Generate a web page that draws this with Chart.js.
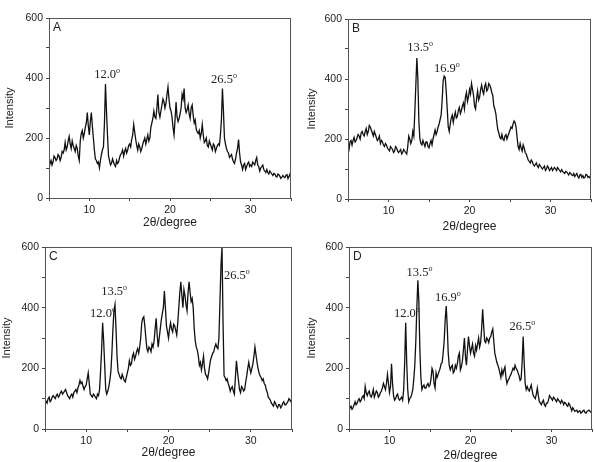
<!DOCTYPE html>
<html>
<head>
<meta charset="utf-8">
<script src="https://cdn.jsdelivr.net/npm/chart.js@4.4.0/dist/chart.umd.min.js"></script>
<style>
  html, body { margin: 0; padding: 0; background: #fff; }
  body { width: 595px; height: 462px; overflow: hidden; position: relative; }
  canvas { position: absolute; }
</style>
</head>
<body>
<canvas id="cA" width="297" height="240" style="left:0px;top:0px"></canvas>
<canvas id="cB" width="298" height="240" style="left:297px;top:0px"></canvas>
<canvas id="cC" width="297" height="240" style="left:0px;top:231px"></canvas>
<canvas id="cD" width="298" height="240" style="left:297px;top:231px"></canvas>
<script>
// ---- data: 2-theta angles (degree), main grid ----
const angles = [5,5.25,5.5,5.75,6,6.25,6.5,6.75,7,7.25,7.5,7.75,8,8.25,8.5,8.75,9,9.25,9.5,9.75,
  10,10.25,10.5,10.75,11,11.25,11.5,11.75,12,12.25,12.5,12.75,13,13.25,13.5,13.75,14,14.25,14.5,14.75,
  15,15.25,15.5,15.75,16,16.25,16.5,16.75,17,17.25,17.5,17.75,18,18.25,18.5,18.75,19,19.25,19.5,19.75,
  20,20.25,20.5,20.75,21,21.25,21.5,21.75,22,22.25,22.5,22.75,23,23.25,23.5,23.75,24,24.25,24.5,24.75,
  25,25.25,25.5,25.75,26,26.25,26.5,26.75,27,27.25,27.5,27.75,28,28.25,28.5,28.75,29,29.25,29.5,29.75,
  30,30.25,30.5,30.75,31,31.25,31.5,31.75,32,32.25,32.5,32.75,33,33.25,33.5,33.75,34,34.25,34.5,34.75,35];

// in-between angles (read separately for the noise)
const midAngles = [5.125,5.375,5.625,5.875,6.125,6.375,6.625,6.875,7.125,7.375,7.625,7.875,8.125,8.375,8.625,8.875,
  9.125,9.375,9.625,9.875,10.125,10.375,10.625,10.875,11.125,11.375,11.625,11.875,12.125,12.375,12.625,12.875,
  13.125,13.375,13.625,13.875,14.125,14.375,14.625,14.875,15.125,15.375,15.625,15.875,16.125,16.375,16.625,16.875,
  17.125,17.375,17.625,17.875,18.125,18.375,18.625,18.875,19.125,19.375,19.625,19.875,20.125,20.375,20.625,20.875,
  21.125,21.375,21.625,21.875,22.125,22.375,22.625,22.875,23.125,23.375,23.625,23.875,24.125,24.375,24.625,24.875,
  25.125,25.375,25.625,25.875,26.125,26.375,26.625,26.875,27.125,27.375,27.625,27.875,28.125,28.375,28.625,28.875,
  29.125,29.375,29.625,29.875,30.125,30.375,30.625,30.875,31.125,31.375,31.625,31.875,32.125,32.375,32.625,32.875,
  33.125,33.375,33.625,33.875,34.125,34.375,34.625,34.875];

// ---- intensities on the main grid ----
const intensityA = [95,125,120,135, 130,140,135,150, 185,170,205,165, 175,155,165,125, 215,200,235,285,
  210,285,200,130, 115,100,145,170, 380,210,125,115, 120,105,115,135, 150,140,165,160,
  180,195,245,195, 160,170,165,190, 180,210,200,250, 290,265,345,270, 310,320,315,370,
  300,270,210,320, 255,280,345,365, 285,310,265,310, 250,230,215,200, 245,185,200,170,
  180,160,175,165, 180,210,365,200, 165,150,140,130, 115,150,195,120, 95,115,105,120,
  110,120,110,135, 105,100,110,90, 95,80,85,75, 80,70,78,65, 75,68,78,72, 65];
const intensityAMid = [115,110,140,125, 145,125,155,160, 160,190,180,190, 165,175,140,190, 225,215,250,240,
  255,240,160,125, 120,125,160,250, 290,140,110,130, 110,125,120,145, 160,155,150,175,
  170,210,220,175, 180,155,180,200, 195,190,235,265, 270,300,285,290, 330,300,345,330,
  290,235,260,270, 265,300,330,300, 295,280,300,275, 260,220,225,215, 210,190,175,190,
  170,180,155,175, 175,260,290,180, 155,135,145,120, 130,165,150,110, 110,95,115,105,
  105,115,125,110, 90,105,95,85, 85,90,80,82, 72,80,72,70, 70,75,65,80];

const intensityB = [175,190,180,205, 195,215,200,225, 210,235,225,240, 220,225,205,200, 185,190,175,180,
  165,175,165,160, 170,155,165,155, 160,150,210,185, 225,290,470,260, 185,195,175,190,
  170,195,200,230, 225,250,280,395, 405,300,225,270, 255,290,275,305, 295,320,340,325,
  365,385,345,300, 360,340,380,350, 385,365,380,355, 310,285,230,205, 215,195,215,210,
  230,235,260,240, 175,185,160,170, 150,130,120,125, 110,120,105,110, 100,110,100,105,
  100,95,105,95, 100,90,92,85, 90,80,85,78, 75,85,70,82, 78,72,80,75, 78];
const intensityBMid = [165,195,195,190, 205,210,220,215, 225,215,245,230, 210,215,195,210, 195,180,185,170,
  160,170,155,175, 160,160,150,165, 155,175,200,195, 210,380,400,200, 180,185,190,175,
  185,180,215,215, 240,265,330,410, 360,240,250,280, 275,270,295,285, 310,300,355,340,
  350,365,310,335, 330,365,360,375, 360,385,370,345, 300,255,220,200, 200,210,200,220,
  240,250,255,205, 165,170,180,155, 140,125,130,115, 115,110,115,105, 105,95,110,95,
  105,100,100,105, 95,98,88,92, 85,88,80,85, 80,75,80,72, 70,82,72,70];

const intensityC = [100,85,105,95, 110,100,115,110, 125,120,130,110, 100,115,120,130, 135,160,155,130,
  145,185,115,105, 110,100,110,190, 350,210,115,140, 190,330,410,240, 180,165,170,155,
  185,225,215,250, 240,265,270,350, 370,300,255,265, 280,290,365,270, 330,380,455,340,
  300,350,320,340, 310,400,485,400, 440,390,485,420, 400,290,260,210, 195,240,180,165,
  210,240,255,280, 265,420,600,175, 160,150,125,140, 115,225,160,120, 135,130,175,220,
  185,215,270,220, 185,170,165,145, 120,100,85,75, 85,70,80,75, 90,80,90,95, 105];
const intensityCMid = [90,100,90,105, 105,110,105,120, 115,125,120,105, 110,105,125,120, 145,150,140,140,
  165,150,110,115, 105,115,130,260, 290,130,125,160, 250,390,330,190, 170,180,160,170,
  200,210,240,230, 255,250,300,365, 340,265,270,255, 270,330,310,300, 360,400,400,320,
  330,330,345,325, 350,450,440,460, 410,450,450,430, 330,270,240,220, 215,200,175,185,
  230,250,270,270, 300,540,350,170, 165,140,135,125, 170,190,130,140, 125,155,200,200,
  200,240,245,200, 175,160,150,130, 105,95,80,90, 75,80,70,85, 80,85,100,90];

const intensityD = [60,75,70,90, 85,100,95,110, 140,110,125,105, 130,115,120,110, 125,150,130,180,
  120,215,110,100, 115,95,105,130, 350,130,100,115, 165,290,490,260, 130,145,135,150,
  145,200,150,185, 180,200,220,290, 405,250,195,210, 190,200,240,195, 225,300,210,305,
  250,280,240,260, 300,285,395,290, 300,285,305,330, 250,220,200,170, 180,205,150,165,
  180,200,210,195, 175,165,305,150, 140,125,145,110, 100,135,90,80, 95,75,85,110,
  100,105,95,100, 90,95,80,85, 75,80,60,65, 60,55,60,55, 62,52,60,58, 65];
const intensityDMid = [70,65,80,80, 95,90,105,100, 120,120,110,115, 105,125,105,120, 135,140,150,150,
  140,150,95,110, 100,100,95,220, 220,90,105,130, 210,400,420,170, 140,135,145,140,
  165,190,135,170, 190,215,250,360, 340,210,205,185, 210,215,250,205, 260,240,260,275,
  265,250,275,280, 270,330,340,285, 295,300,320,290, 235,210,185,195, 195,170,160,175,
  190,195,200,185, 160,220,220,130, 130,135,125,105, 115,110,85,90, 80,85,95,105,
  95,100,90,95, 85,90,88,78, 85,70,70,58, 62,58,52,60, 55,58,62,55];

// ---- peak annotations (text, angle, intensity at text baseline) ----
const peakTextA = ['12.0', '26.5'];
const peakAngleA = [12.2, 26.7];
const peakValA = [400, 383];

const peakTextB = ['13.5', '16.9'];
const peakAngleB = [13.9, 17.2];
const peakValB = [493, 423];

const peakTextC = ['12.0', '13.5', '26.5'];
const peakAngleC = [12.05, 13.4, 28.3];
const peakValC = [370, 442, 495];

const peakTextD = ['12.0', '13.5', '16.9', '26.5'];
const peakAngleD = [12.15, 13.7, 17.2, 26.4];
const peakValD = [370, 506, 423, 327];

// ---- axis ticks ----
const yTicks = [0, 200, 400, 600];
const xTicks = [10, 20, 30];

const SANS = '"Liberation Sans", Arial, sans-serif';
const SERIF = '"Liberation Serif", "Times New Roman", serif';

const panelDecor = {
  id: 'panelDecor',
  afterDraw(chart, args, opts) {
    const ctx = chart.ctx;
    const a = chart.chartArea;
    ctx.save();
    ctx.strokeStyle = '#555';
    ctx.lineWidth = 1;
    ctx.strokeRect(Math.round(a.left) + 0.5, Math.round(a.top) + 0.5,
                   Math.round(a.right - a.left) - 1, Math.round(a.bottom - a.top));
    ctx.fillStyle = '#222';
    ctx.font = '12px ' + SANS;
    ctx.textAlign = 'left';
    ctx.textBaseline = 'alphabetic';
    ctx.fillText(opts.letter, a.left + 4, a.top + 13);
    const xs = chart.scales.x, ys = chart.scales.y;
    for (let i = 0; i < opts.texts.length; i++) {
      const cx = xs.getPixelForValue(opts.angles[i]);
      const by = ys.getPixelForValue(opts.vals[i]);
      ctx.font = '12.5px ' + SERIF;
      const w1 = ctx.measureText(opts.texts[i]).width;
      ctx.font = '8px ' + SERIF;
      const w2 = ctx.measureText('o').width;
      const x0 = cx - (w1 + w2) / 2;
      ctx.font = '12.5px ' + SERIF;
      ctx.fillText(opts.texts[i], x0, by);
      ctx.font = '8px ' + SERIF;
      ctx.fillText('o', x0 + w1, by - 5);
    }
    ctx.restore();
  }
};

function makePanel(id, letter, values, midValues, texts, pAngles, pVals, geo) {
  const yWidth = geo.L - geo.cl;
  const xHeight = geo.ct + geo.h - geo.B;
  const titleLH = 12 * 1.2;
  const yTitlePad = Math.max(0, (geo.yt - geo.cl) - 11 * 1.2 / 2);
  const xTitlePad = Math.max(0, (geo.ct + geo.h - geo.xt) - titleLH / 2);
  const pts = angles.map((a, i) => ({ x: a, y: values[i] }))
    .concat(midAngles.map((a, i) => ({ x: a, y: midValues[i] })))
    .sort((p, q) => p.x - q.x);
  new Chart(document.getElementById(id), {
    type: 'line',
    data: { datasets: [{ data: pts, borderColor: '#111', borderWidth: 1.3,
      pointRadius: 0, tension: 0, fill: false }] },
    options: {
      responsive: false, animation: false, devicePixelRatio: 1, parsing: false,
      layout: { padding: { left: 0, top: geo.T - geo.ct, right: geo.cl + geo.w - geo.R, bottom: 0 } },
      plugins: { legend: { display: false }, tooltip: { enabled: false },
        panelDecor: { letter, texts, angles: pAngles, vals: pVals } },
      scales: {
        x: {
          type: 'linear', min: 5, max: 35,
          afterFit(s) { s.height = xHeight; },
          ticks: { stepSize: 5, autoSkip: false, maxRotation: 0, padding: 3,
            color: '#222', font: { family: SANS, size: 10.5 },
            callback: v => xTicks.includes(v) ? String(v) : '' },
          grid: { drawOnChartArea: false, drawTicks: true, tickLength: 3, color: '#444' },
          border: { display: true, color: '#555' },
          title: { display: true, text: '2θ/degree', color: '#222',
            font: { family: SANS, size: 12 }, padding: { top: 0, bottom: xTitlePad } }
        },
        y: {
          min: 0, max: 600,
          afterFit(s) { s.width = yWidth; },
          ticks: { stepSize: 100, autoSkip: false, padding: 3,
            color: '#222', font: { family: SANS, size: 10.5 },
            callback: v => yTicks.includes(v) ? String(v) : '' },
          grid: { drawOnChartArea: false, drawTicks: true, tickLength: 3, color: '#444' },
          border: { display: true, color: '#555' },
          title: { display: true, text: 'Intensity', color: '#222',
            font: { family: SANS, size: 11 }, padding: { top: yTitlePad, bottom: 0 } }
        }
      }
    },
    plugins: [panelDecor]
  });
}

makePanel('cA', 'A', intensityA, intensityAMid, peakTextA, peakAngleA, peakValA,
  { cl: 0, ct: 0, w: 297, h: 240, L: 49, T: 18, R: 291, B: 198, yt: 10, xt: 223 });
makePanel('cB', 'B', intensityB, intensityBMid, peakTextB, peakAngleB, peakValB,
  { cl: 297, ct: 0, w: 298, h: 240, L: 348, T: 19, R: 591, B: 199, yt: 312, xt: 227 });
makePanel('cC', 'C', intensityC, intensityCMid, peakTextC, peakAngleC, peakValC,
  { cl: 0, ct: 231, w: 297, h: 240, L: 45, T: 247, R: 292, B: 429, yt: 7, xt: 453 });
makePanel('cD', 'D', intensityD, intensityDMid, peakTextD, peakAngleD, peakValD,
  { cl: 297, ct: 231, w: 298, h: 240, L: 349, T: 247, R: 592, B: 429, yt: 312, xt: 456 });
</script>
</body>
</html>
